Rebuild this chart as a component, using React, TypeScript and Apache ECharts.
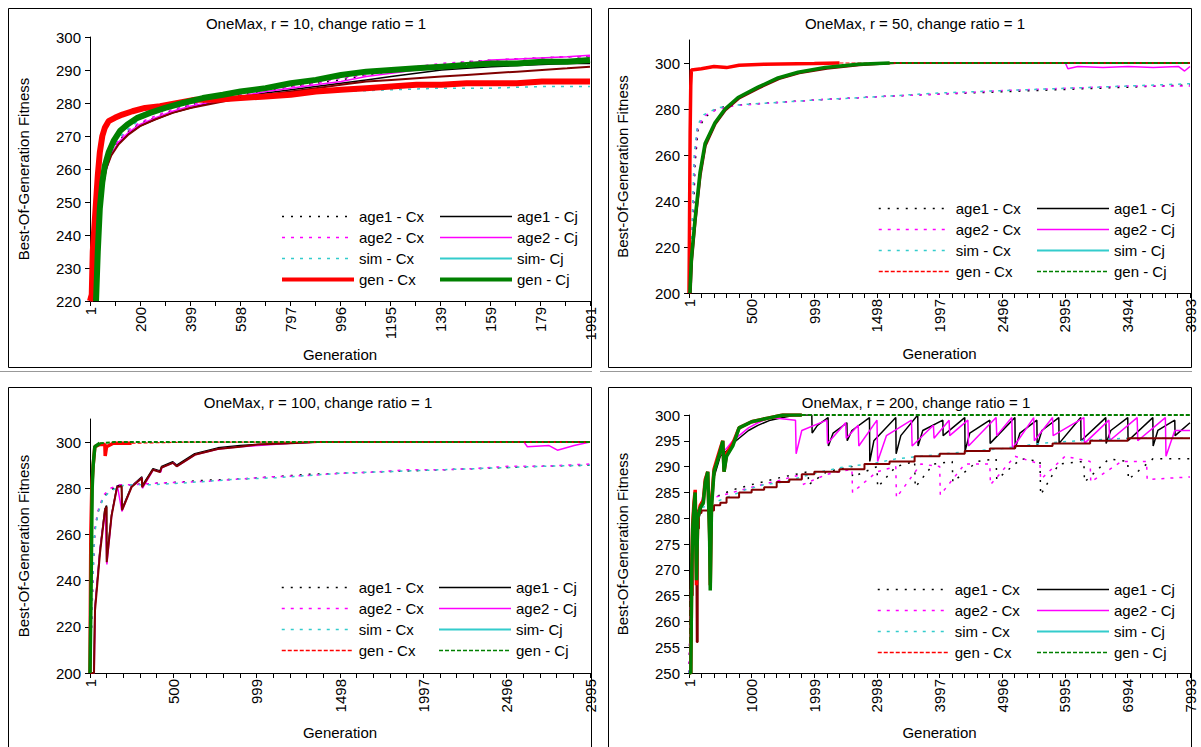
import React, { useEffect, useRef } from 'react';
import * as echarts from 'echarts';

type P = [number, number][];

// ---------- Panel 1: r = 10 ----------
const p1XLabelValues = [1, 200, 399, 598, 797, 996, 1195, 1394, 1593, 1792, 1991];
const p1XLabelTexts = ['1', '200', '399', '598', '797', '996', '1195', '139', '159', '179', '1991'];
const p1YLabels = [220, 230, 240, 250, 260, 270, 280, 290, 300];
const p1Age1Cx: P = [[1,220],[22,221],[32,238],[42,250],[55,258],[75,263.5],[105,267.5],[145,271],[195,273.5],[255,275.5],[325,277.5],[400,279.5],[500,281],[600,282.5],[700,283.5],[800,285],[900,286],[1000,287],[1100,288.5],[1200,289.5],[1300,290.5],[1400,291.5],[1500,292.5],[1600,293],[1750,293.5],[1900,294],[1991,294]];
const p1Age1Cj: P = [[1,220],[26,221],[36,241],[48,252],[62,259],[82,264],[112,267.5],[152,270.5],[200,273],[260,275],[330,277],[400,278.5],[500,280.5],[600,282],[700,283],[800,284],[900,285],[1000,286],[1100,287],[1200,288],[1300,289],[1400,290],[1500,290.5],[1600,291],[1750,291.5],[1900,292],[1991,292]];
const p1Age2Cx: P = [[1,220],[24,223],[34,240],[44,251],[58,259],[78,264],[108,268],[148,271.5],[198,274],[258,276],[328,278],[400,279.5],[500,281],[600,282.5],[700,284],[800,285],[900,286],[1000,287.5],[1100,288.5],[1200,290],[1300,291],[1400,292],[1500,292.5],[1600,293],[1750,293.5],[1900,294],[1991,294]];
const p1Age2Cj: P = [[1,220],[27,222],[37,242],[49,252],[63,259],[83,264],[113,268],[153,271],[200,273.5],[260,275.5],[330,277.5],[400,279],[500,280.5],[600,282],[700,283.5],[800,284.5],[900,285.5],[1000,286.5],[1100,288],[1200,289],[1300,290],[1400,291],[1500,292],[1600,293],[1750,293.5],[1900,294],[1991,294.5]];
const p1SimCx: P = [[1,220],[25,224],[35,243],[45,254],[60,260],[80,265],[110,269],[150,272],[200,275],[260,277.5],[330,279],[400,280],[500,281],[600,281.5],[700,282],[800,282.5],[900,283],[1000,283.5],[1200,284],[1400,284.5],[1600,284.5],[1800,285],[1991,285]];
const p1SimCj: P = [[1,220],[30,222],[40,245],[50,254],[65,260],[85,264],[115,267.5],[155,270.5],[200,273],[260,275],[330,277],[400,278.5],[500,280],[600,281.5],[700,282.5],[800,283.5],[900,284.5],[1000,285.5],[1100,286.5],[1200,287],[1300,287.5],[1400,288],[1500,288.5],[1600,289],[1700,289.5],[1800,290],[1900,290.5],[1991,291]];
const p1GenCx: P = [[1,220],[8,222],[12,235],[18,242],[25,250],[32,258],[40,265],[50,270],[60,272.5],[75,274.5],[100,275.5],[130,276.5],[170,277.5],[220,278.5],[280,279],[350,280],[420,281],[500,281],[600,281.5],[700,282],[800,282.5],[900,283.5],[1000,284],[1100,284.5],[1200,285],[1300,285.5],[1400,285.5],[1500,286],[1600,286],[1700,286],[1800,286.5],[1991,286.5]];
const p1GenCj: P = [[25,220],[32,235],[40,248],[50,256],[60,261],[75,265],[95,268.5],[120,271.5],[150,273.5],[190,275.5],[240,277],[300,278.5],[370,280],[450,281.5],[530,282.5],[600,283.5],[700,284.5],[800,286],[900,287],[1000,288.5],[1100,289.5],[1200,290],[1300,290.5],[1400,291],[1500,291.5],[1600,292],[1700,292],[1800,292.5],[1900,292.5],[1991,293]];

// ---------- Panel 2: r = 50 ----------
const p2XLabelValues = [1, 500, 999, 1498, 1997, 2496, 2995, 3494, 3993];
const p2XLabelTexts = ['1', '500', '999', '1498', '1997', '2496', '2995', '3494', '3993'];
const p2YLabels = [200, 220, 240, 260, 280, 300];
const p2Age1Cx: P = [[1,200],[25,213],[49,256],[73,271],[129,276.5],[233,280.5],[367,281.7],[631,282.6],[1030,284],[1560,285.5],[2000,286.5],[2500,287.5],[3000,288.5],[3500,289.5],[3993,290.5]];
const p2Age1Cj: P = [[1,200],[12,200],[22,215],[50,232],[90,252],[130,265],[210,274],[290,280],[395,285],[555,289.5],[715,293.5],[875,296],[1090,298],[1350,299.5],[1600,300],[3993,300]];
const p2Age2Cx: P = [[1,200],[22,218],[45,258],[70,272],[125,277],[230,280],[370,281.5],[630,282.5],[1030,284],[1560,285.5],[2000,286.5],[2500,288],[3000,289],[3500,290],[3993,290]];
const p2Age2Cj: P = [[1,200],[14,200],[24,216],[52,233],[92,253],[132,265.5],[212,274.5],[292,280],[398,285],[560,289.5],[720,293.5],[880,296],[1095,298],[1355,299.5],[1600,300],[3000,300],[3020,297.5],[3100,298.5],[3300,298],[3500,298.5],[3700,298],[3900,298.5],[3950,296.5],[3993,298.5]];
const p2SimCx: P = [[1,200],[20,220],[42,260],[68,273],[120,277.5],[228,280.5],[365,281.7],[630,282.6],[1030,284],[1560,285.5],[2000,287],[2500,288],[3000,289],[3500,290],[3993,291]];
const p2SimCj: P = [[1,200],[15,200],[26,214],[54,231],[94,251],[134,264],[214,273.5],[294,279.5],[400,284.5],[560,289],[720,293],[880,295.5],[1100,297.5],[1360,299],[1650,300],[3993,300]];
const p2GenCx: P = [[1,200],[5,230],[10,270],[15,290],[20,297],[100,297.5],[200,298.5],[300,298],[400,299],[600,299.5],[1000,299.8],[1200,300]];
const p2GenCxLate: P = [[1200,300],[3993,300]];
const p2GenCj: P = [[8,200],[20,215],[49,232],[89,252.5],[129,265],[208,274],[288,280],[392,285],[551,289.5],[710,293.5],[870,296],[1085,298],[1350,299.5],[1600,300]];
const p2GenCjLate: P = [[1600,300],[3993,300]];

// ---------- Panel 3: r = 100 ----------
const p3XLabelValues = [1, 500, 999, 1498, 1997, 2496, 2995];
const p3XLabelTexts = ['1', '500', '999', '1498', '1997', '2496', '2995'];
const p3YLabels = [200, 220, 240, 260, 280, 300];
const p3Age1Cx: P = [[1,200],[10,220],[20,245],[30,262],[50,270],[80,276],[120,279],[180,281.5],[250,281.5],[350,282],[500,282.5],[700,283.5],[900,284],[1100,285],[1300,286],[1500,286.5],[1700,287],[1900,287.5],[2100,288],[2300,288.5],[2500,289],[2700,289.5],[2995,290]];
const p3Age1Cj: P = [[1,200],[24,200],[30,228],[60,253],[90,271],[100,272.5],[101,249],[130,268.5],[163,281],[190,281.5],[193,271],[250,281],[312,285],[313,281],[378,288.5],[420,287.5],[430,289.5],[497,291.5],[520,290],[628,295],[766,297.5],[900,298.5],[1006,299],[1200,299.5],[1365,300],[2995,300]];
const p3Age2Cx: P = [[1,200],[12,224],[22,248],[32,264],[52,271],[82,277],[122,280],[182,281.5],[250,281.5],[350,282],[500,282.5],[700,283],[900,284],[1100,285],[1300,285.5],[1500,286.5],[1700,287],[1900,288],[2100,288],[2300,288.5],[2500,289.5],[2700,289.5],[2995,290.5]];
const p3Age2Cj: P = [[1,200],[26,200],[32,229],[62,254],[92,271],[102,247],[132,269],[165,281],[192,270],[252,281],[314,284.5],[315,280],[380,288],[425,287],[432,289],[500,291],[522,289.5],[630,294.5],[770,297],[900,298],[1010,298.5],[1200,299.5],[1370,300],[2600,300],[2620,298],[2750,298.5],[2800,296.5],[2900,298.5],[2995,300]];
const p3SimCx: P = [[1,200],[8,218],[18,242],[28,260],[48,269],[78,275.5],[118,278.5],[178,281],[250,281.5],[350,281.5],[500,282],[700,283],[900,284],[1100,284.5],[1300,285.5],[1500,286.5],[1700,287],[1900,287.5],[2100,288],[2300,288.5],[2500,289],[2700,289.5],[2995,290]];
const p3SimCj: P = [[1,200],[25,200],[31,227],[61,252],[91,270.5],[100,272],[101,248],[130,268],[163,280.5],[190,281],[193,270.5],[250,280.5],[312,284.5],[313,280.5],[378,288],[420,287],[430,289],[497,291],[520,289.5],[628,294.5],[766,297],[900,298],[1006,299],[1200,299.5],[1365,300],[2995,300]];
const p3GenCx: P = [[1,200],[6,260],[12,281],[20,290],[30,298],[60,299],[90,299],[92,294],[100,298],[140,299.5],[200,299.5],[250,299.5]];
const p3GenCxLate: P = [[250,299.5],[600,300],[2995,300]];
const p3GenCj: P = [[1,200],[8,240],[14,280],[20,290],[30,298],[60,299.5]];
const p3GenCjLate: P = [[60,299.5],[150,300],[2995,300]];

// ---------- Panel 4: r = 200 ----------
const p4XLabelValues = [1, 1000, 1999, 2998, 3997, 4996, 5995, 6994, 7993];
const p4XLabelTexts = ['1', '1000', '1999', '2998', '3997', '4996', '5995', '6994', '7993'];
const p4YLabels = [250, 255, 260, 265, 270, 275, 280, 285, 290, 295, 300];
const p4Age1Cx: P = [[1,250],[40,272],[80,280],[150,282],[400,284],[700,285.5],[1000,286.5],[1500,288],[1900,289],[1910,286.5],[2200,289],[2600,290],[2610,288],[3000,290],[3010,286],[3300,290],[3600,291],[3610,286],[3900,290.5],[4200,291],[4210,287],[4600,291],[4900,291.5],[4910,287.5],[5300,291.5],[5600,291],[5610,284.5],[5900,290.5],[6300,291],[6310,287],[6700,291.5],[7000,291],[7010,287.5],[7400,291.5],[7993,291.5]];
const p4Age1Cj: P = [[1,250],[30,250],[45,268],[60,277],[80,281],[100,284],[120,270],[140,279],[200,282],[260,286],[300,288],[350,280],[400,288],[500,292],[600,293],[700,294.5],[800,295.5],[950,297],[1100,298],[1300,299],[1500,299.5],[1700,300],[1960,300],[1965,296.5],[2050,298],[2220,299.5],[2225,294],[2300,296.5],[2520,298.5],[2525,295],[2600,297],[2880,299.5],[2885,291],[2950,295],[3300,299.5],[3305,292.5],[3380,296],[3650,300],[3655,294],[3730,297],[4050,299],[4055,296],[4400,299.5],[4405,293],[4480,296.5],[4800,299],[4805,294.5],[5200,299.5],[5205,293.5],[5280,296.5],[5550,299],[5555,294],[5630,297],[5900,299.5],[5905,294.5],[6250,299.5],[6255,295],[6650,299.5],[6655,294.5],[6730,297],[7000,299.5],[7005,295],[7400,299.5],[7405,294],[7480,297],[7750,299],[7755,296],[7993,298.5]];
const p4Age2Cx: P = [[1,250],[40,274],[80,281],[150,282.5],[400,284],[700,285],[1000,286],[1500,287.5],[1800,288.5],[1810,286.5],[2200,288.5],[2600,289.5],[2610,285],[3000,289],[3300,290],[3310,284],[3700,290.5],[4000,290],[4010,284.5],[4400,290.5],[4800,290.5],[4810,286.5],[5200,292],[5600,290.5],[5610,287.5],[6000,292],[6400,291],[6410,287],[6900,291],[7300,291],[7310,287.5],[7993,288]];
const p4Age2Cj: P = [[1,250],[30,250],[45,269],[60,278],[80,282],[100,285],[120,271],[140,280],[200,283],[260,286.5],[300,288.5],[350,281],[400,289],[500,292.5],[600,293.5],[700,295],[800,296],[950,297.5],[1100,298.5],[1300,299.5],[1700,299],[1710,292.5],[1800,297],[2200,299],[2210,294.5],[2500,298.5],[2510,295.5],[2700,298],[2710,294],[3000,299],[3010,291],[3150,296],[3550,299],[3560,294],[3900,298],[3910,295.5],[4150,299],[4160,296],[4450,299],[4460,294],[4900,299.5],[4910,296],[5150,299.5],[5160,293.5],[5500,299.5],[5510,295],[5800,299.5],[5810,296],[6300,299.5],[6310,294.5],[6700,299],[6710,295],[7150,299.5],[7160,295],[7600,299.5],[7610,292],[7750,297],[7993,297]];
const p4SimCx: P = [[1,250],[30,252],[40,268],[60,276],[80,280],[100,282],[130,279],[150,281],[200,282],[300,282.5],[400,283],[500,283.5],[700,284.5],[900,285.5],[1200,286.5],[1500,287],[1800,288],[2100,289],[2500,290],[2900,290.5],[3300,291.5],[3700,292],[4100,292.5],[4500,293],[5000,293.5],[5600,294.5],[6200,295],[7000,295.5],[7993,295.5]];
const p4SimCj: P = [[1,250],[30,250],[40,265],[60,275],[80,279],[100,281],[110,280],[120,268],[125,256],[140,278],[160,281],[200,281.5],[300,281.5],[400,282.5],[500,283],[600,284],[800,285],[1000,285.5],[1200,286],[1400,287],[1600,287.5],[1800,288.5],[2000,289],[2400,289.5],[2800,290.5],[3200,291],[3600,292],[4000,292.5],[4400,293],[4800,293.5],[5200,294],[5800,294.5],[6400,295],[7000,295.5],[7993,295.5]];
const p4GenCx: P = [[1,250],[30,250],[45,271],[60,279],[80,283],[100,285.5],[110,276],[120,267],[140,280],[180,282.5],[230,283.5],[260,287.5],[300,289],[330,277],[340,267],[360,283],[400,289.5],[450,291.5],[500,293.5],[540,295],[560,289],[600,292.5],[700,294.5],[800,297.5],[1000,298.7],[1260,299.4],[1500,300],[1800,300]];
const p4GenCxLate: P = [[1800,300],[7993,300]];
const p4GenCj: P = [[1,250],[30,250],[45,270],[60,278],[80,282],[100,285],[110,275],[120,268],[140,280],[180,282],[230,283],[260,287],[300,289],[330,276],[340,266],[360,282],[400,289],[450,291],[500,293],[540,295],[560,289],[600,292],[700,294],[800,297.5],[1000,298.7],[1260,299.4],[1500,300],[1800,300]];
const p4GenCjLate: P = [[1800,300],[7993,300]];

const FONT = '"Liberation Sans", Arial, sans-serif';
const C = { age1: '#000000', age2: '#ff00ff', sim: '#33cccc', simCj: '#800000', genCx: '#ff0000', genCj: '#008000' };

interface PanelDef {
  xMin: number; xMax: number; yMin: number; yMax: number;
  xLabelValues: number[]; xLabelTexts: string[]; xSub: number; yLabels: number[];
  grid: { left: number; top: number; width: number; height: number };
  nameGapX: number; simCjName: string; thickGen: boolean; simStep: boolean;
  age1Cx: P; age1Cj: P; age2Cx: P; age2Cj: P; simCx: P; simCj: P;
  genCx: P; genCxLate: P | null; genCj: P; genCjLate: P | null;
  legendTop: number; legendLeft1: number; legendLeft2: number;
}

const panels: PanelDef[] = [
  { xMin: 1, xMax: 1991, yMin: 220, yMax: 300, xLabelValues: p1XLabelValues, xLabelTexts: p1XLabelTexts, xSub: 2, yLabels: p1YLabels,
    grid: { left: 90, top: 37, width: 500, height: 264 }, nameGapX: 46, simCjName: 'sim- Cj', thickGen: true, simStep: false,
    age1Cx: p1Age1Cx, age1Cj: p1Age1Cj, age2Cx: p1Age2Cx, age2Cj: p1Age2Cj, simCx: p1SimCx, simCj: p1SimCj,
    genCx: p1GenCx, genCxLate: null, genCj: p1GenCj, genCjLate: null, legendTop: 209, legendLeft1: 280, legendLeft2: 438 },
  { xMin: 1, xMax: 3993, yMin: 200, yMax: 310, xLabelValues: p2XLabelValues, xLabelTexts: p2XLabelTexts, xSub: 5, yLabels: p2YLabels,
    grid: { left: 689, top: 40, width: 501, height: 253 }, nameGapX: 53, simCjName: 'sim - Cj', thickGen: false, simStep: false,
    age1Cx: p2Age1Cx, age1Cj: p2Age1Cj, age2Cx: p2Age2Cx, age2Cj: p2Age2Cj, simCx: p2SimCx, simCj: p2SimCj,
    genCx: p2GenCx, genCxLate: p2GenCxLate, genCj: p2GenCj, genCjLate: p2GenCjLate, legendTop: 201, legendLeft1: 878, legendLeft2: 1036 },
  { xMin: 1, xMax: 2995, yMin: 200, yMax: 310, xLabelValues: p3XLabelValues, xLabelTexts: p3XLabelTexts, xSub: 5, yLabels: p3YLabels,
    grid: { left: 90, top: 419, width: 500, height: 254 }, nameGapX: 52, simCjName: 'sim- Cj', thickGen: false, simStep: false,
    age1Cx: p3Age1Cx, age1Cj: p3Age1Cj, age2Cx: p3Age2Cx, age2Cj: p3Age2Cj, simCx: p3SimCx, simCj: p3SimCj,
    genCx: p3GenCx, genCxLate: p3GenCxLate, genCj: p3GenCj, genCjLate: p3GenCjLate, legendTop: 580, legendLeft1: 281, legendLeft2: 438 },
  { xMin: 1, xMax: 7993, yMin: 250, yMax: 300, xLabelValues: p4XLabelValues, xLabelTexts: p4XLabelTexts, xSub: 5, yLabels: p4YLabels,
    grid: { left: 689, top: 415, width: 501, height: 258 }, nameGapX: 52, simCjName: 'sim - Cj', thickGen: false, simStep: true,
    age1Cx: p4Age1Cx, age1Cj: p4Age1Cj, age2Cx: p4Age2Cx, age2Cj: p4Age2Cj, simCx: p4SimCx, simCj: p4SimCj,
    genCx: p4GenCx, genCxLate: p4GenCxLate, genCj: p4GenCj, genCjLate: p4GenCjLate, legendTop: 582, legendLeft1: 877, legendLeft2: 1036 },
];

const titles = [
  { text: 'OneMax, r = 10, change ratio = 1', x: 316, y: 23 },
  { text: 'OneMax, r = 50, change ratio = 1', x: 915, y: 23 },
  { text: 'OneMax, r = 100, change ratio = 1', x: 318, y: 402 },
  { text: 'OneMax, r = 200, change ratio = 1', x: 916, y: 402 },
];

function minorTicks(labels: number[], sub: number): number[] {
  const out: number[] = [];
  for (let i = 0; i < labels.length; i++) {
    out.push(labels[i]);
    if (i < labels.length - 1) {
      const step = (labels[i + 1] - labels[i]) / sub;
      for (let k = 1; k < sub; k++) out.push(labels[i] + step * k);
    }
  }
  return out;
}

function buildOption() {
  const grids: any[] = [];
  const xAxes: any[] = [];
  const yAxes: any[] = [];
  const series: any[] = [];
  const legends: any[] = [];
  const dotAge1 = [2, 7];
  const dashAge2 = [3, 6];
  const dashSim = [3, 6];
  const dashGen = [4, 2];

  panels.forEach((p, i) => {
    grids.push({ ...p.grid, containLabel: false });
    xAxes.push({
      gridIndex: i, type: 'value', min: p.xMin, max: p.xMax,
      axisLine: { show: true, onZero: false, lineStyle: { color: '#000', width: 1 } },
      axisTick: { show: true, length: 5, customValues: minorTicks(p.xLabelValues, p.xSub), lineStyle: { color: '#000' } },
      axisLabel: {
        customValues: p.xLabelValues, rotate: 90, margin: 6, fontSize: 15, color: '#000', fontFamily: FONT,
        formatter: (v: number) => { const k = p.xLabelValues.indexOf(Math.round(v)); return k >= 0 ? p.xLabelTexts[k] : ''; },
      },
      splitLine: { show: false },
      name: 'Generation', nameLocation: 'middle', nameGap: p.nameGapX,
      nameTextStyle: { fontSize: 15, color: '#000', fontFamily: FONT },
    });
    yAxes.push({
      gridIndex: i, type: 'value', min: p.yMin, max: p.yMax,
      axisLine: { show: true, onZero: false, lineStyle: { color: '#000', width: 1 } },
      axisTick: { show: true, length: 5, customValues: p.yLabels, lineStyle: { color: '#000' } },
      axisLabel: { customValues: p.yLabels, margin: 9, fontSize: 15, color: '#000', fontFamily: FONT },
      splitLine: { show: false },
      name: 'Best-Of-Generation Fitness', nameLocation: 'middle', nameGap: 59,
      nameTextStyle: { fontSize: 15, color: '#000', fontFamily: FONT },
    });
    const mk = (name: string, data: P, ls: any, extra: any = {}) => ({
      type: 'line', name, data, xAxisIndex: i, yAxisIndex: i, symbol: 'none', silent: true,
      lineStyle: ls, itemStyle: { color: ls.color }, emphasis: { disabled: true }, ...extra,
    });
    series.push(mk('age1 - Cx', p.age1Cx, { color: C.age1, width: 1.5, type: dotAge1 }));
    series.push(mk('age1 - Cj', p.age1Cj, { color: C.age1, width: 1.5, type: 'solid' }));
    series.push(mk('age2 - Cx', p.age2Cx, { color: C.age2, width: 1.5, type: dashAge2 }));
    series.push(mk('age2 - Cj', p.age2Cj, { color: C.age2, width: 1.5, type: 'solid' }));
    series.push(mk('sim - Cx', p.simCx, { color: C.sim, width: 1.5, type: dashSim }));
    series.push(mk(p.simCjName, p.simCj, { color: C.simCj, width: 2, type: 'solid' }, p.simStep ? { step: 'end' } : {}));
    const thickW = p.thickGen ? 6 : 3.5;
    series.push(mk('gen - Cx', p.genCx, { color: C.genCx, width: thickW, type: 'solid' }));
    if (p.genCxLate) series.push(mk('gen - Cx', p.genCxLate, { color: C.genCx, width: 1.2, type: dashGen }));
    series.push(mk('gen - Cj', p.genCj, { color: C.genCj, width: thickW, type: 'solid' }));
    if (p.genCjLate) series.push(mk('gen - Cj', p.genCjLate, { color: C.genCj, width: 2, type: dashGen }));

    const genLegW = p.thickGen ? 4 : 1.5;
    const genLegType = p.thickGen ? 'solid' : dashGen;
    const common = {
      orient: 'vertical', top: p.legendTop, padding: 0, itemGap: 6, itemWidth: 72, itemHeight: 14, itemTextGap: 6,
      selectedMode: false, itemStyle: { opacity: 0 },
      textStyle: { fontSize: 15, color: '#000', fontFamily: FONT },
    };
    legends.push({
      ...common, left: p.legendLeft1,
      data: [
        { name: 'age1 - Cx', lineStyle: { color: C.age1, width: 1.5, type: dotAge1 } },
        { name: 'age2 - Cx', lineStyle: { color: C.age2, width: 1.5, type: dashAge2 } },
        { name: 'sim - Cx', lineStyle: { color: C.sim, width: 1.5, type: dashSim } },
        { name: 'gen - Cx', lineStyle: { color: C.genCx, width: genLegW, type: genLegType } },
      ],
    });
    legends.push({
      ...common, left: p.legendLeft2,
      data: [
        { name: 'age1 - Cj', lineStyle: { color: C.age1, width: 1.5, type: 'solid' } },
        { name: 'age2 - Cj', lineStyle: { color: C.age2, width: 1.5, type: 'solid' } },
        { name: p.simCjName, lineStyle: { color: C.sim, width: 2, type: 'solid' } },
        { name: 'gen - Cj', lineStyle: { color: C.genCj, width: genLegW, type: genLegType } },
      ],
    });
  });

  const graphic: any[] = [
    { type: 'rect', shape: { x: 8.5, y: 8.5, width: 583, height: 359 }, style: { fill: 'none', stroke: '#000', lineWidth: 1 }, silent: true },
    { type: 'rect', shape: { x: 608.5, y: 8.5, width: 583, height: 359 }, style: { fill: 'none', stroke: '#000', lineWidth: 1 }, silent: true },
    { type: 'rect', shape: { x: 8.5, y: 387.5, width: 583, height: 380 }, style: { fill: 'none', stroke: '#000', lineWidth: 1 }, silent: true },
    { type: 'rect', shape: { x: 608.5, y: 387.5, width: 583, height: 380 }, style: { fill: 'none', stroke: '#000', lineWidth: 1 }, silent: true },
    { type: 'line', shape: { x1: 0, y1: 371.5, x2: 592, y2: 371.5 }, style: { stroke: '#999', lineWidth: 1 }, silent: true },
    { type: 'line', shape: { x1: 600, y1: 371.5, x2: 1192, y2: 371.5 }, style: { stroke: '#999', lineWidth: 1 }, silent: true },
  ];
  titles.forEach((t) => {
    graphic.push({
      type: 'text', x: t.x, y: t.y, silent: true,
      style: { text: t.text, align: 'center', verticalAlign: 'middle', fill: '#000', font: `15px ${FONT}` },
    });
  });

  return {
    animation: false,
    backgroundColor: '#ffffff',
    textStyle: { fontFamily: FONT },
    grid: grids, xAxis: xAxes, yAxis: yAxes, series, legend: legends, graphic,
  };
}

export default function App() {
  const ref = useRef<HTMLDivElement>(null);
  useEffect(() => {
    if (!ref.current) return;
    const chart = echarts.init(ref.current, undefined, { renderer: 'svg' });
    chart.setOption(buildOption() as any);
    return () => chart.dispose();
  }, []);
  return <div ref={ref} style={{ position: 'absolute', left: 0, top: 0, width: 1201, height: 747, background: '#fff' }} />;
}
